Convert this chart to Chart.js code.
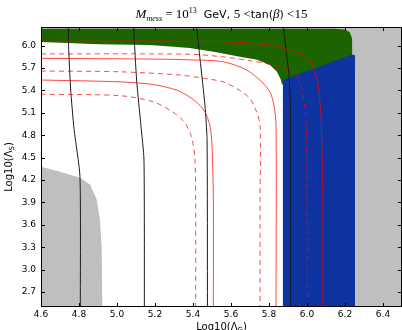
<!DOCTYPE html>
<html>
<head>
<meta charset="utf-8">
<script src="https://cdn.jsdelivr.net/npm/chart.js@4.4.0/dist/chart.umd.min.js"></script>
<style>
  body { margin: 0; background: #fff; }
  canvas { display: block; }
</style>
</head>
<body>
<canvas id="scanChart" width="402" height="330"></canvas>
<script>
// axis ticks
const xTicks = [4.6, 4.8, 5.0, 5.2, 5.4, 5.6, 5.8, 6.0, 6.2, 6.4];
const yTicks = [2.7, 3.0, 3.3, 3.6, 3.9, 4.2, 4.5, 4.8, 5.1, 5.4, 5.7, 6.0];

// region outlines [log10 Lambda_G, log10 Lambda_S]
// green runs a little under the blue so no seam shows
const greenEdge = [[4.6, 6.05], [4.91, 6.02], [5.174, 6.01], [5.384, 5.97], [5.516, 5.915], [5.647, 5.85],
  [5.737, 5.81], [5.805, 5.74], [5.842, 5.65], [5.863, 5.54], [5.868, 5.48], [6.5, 5.8]];
const blueEdge = [[5.872, 2.5], [5.872, 5.54], [6.245, 5.89], [6.253, 5.87], [6.253, 2.5]];
const grayRightEdge = [[4.6, 6.228], [6.14, 6.228], [6.2, 6.215], [6.225, 6.18], [6.237, 6.1], [6.238, 5.88],
  [6.253, 5.87], [6.253, 2.5], [6.5, 2.5]];
const grayLeftEdge = [[4.6, 4.38], [4.7, 4.31], [4.805, 4.23], [4.858, 4.14], [4.893, 3.94], [4.91, 3.67],
  [4.919, 3.31], [4.924, 2.5]];

// black contours
const black1 = [[4.744, 6.25], [4.745, 6.0], [4.756, 5.42], [4.774, 4.88], [4.805, 4.25], [4.807, 2.5]];
const black2 = [[5.087, 6.25], [5.104, 5.515], [5.126, 4.93], [5.142, 4.47], [5.144, 2.5]];
const black3 = [[5.419, 6.25], [5.437, 5.82], [5.463, 5.2], [5.474, 4.74], [5.476, 2.5]];
const black4 = [[5.876, 6.25], [5.889, 5.955], [5.905, 5.61], [5.913, 5.15], [5.914, 2.5]];

// red contours (dashed / solid pairs)
const redA = [[4.6, 5.35], [5.016, 5.33], [5.189, 5.25], [5.279, 5.135], [5.347, 5.0], [5.384, 4.84],
  [5.402, 4.66], [5.41, 4.49], [5.414, 3.94], [5.414, 2.5]];
const redB = [[4.6, 5.54], [5.016, 5.515], [5.191, 5.48], [5.314, 5.404], [5.384, 5.31], [5.437, 5.2],
  [5.463, 5.11], [5.489, 4.93], [5.5, 4.66], [5.507, 3.94], [5.507, 2.5]];
const redC = [[4.6, 5.66], [5.016, 5.65], [5.332, 5.606], [5.489, 5.55], [5.559, 5.515], [5.647, 5.4],
  [5.7, 5.29], [5.735, 5.11], [5.753, 4.93], [5.753, 3.94], [5.753, 2.5]];
const redD = [[4.6, 5.83], [5.2, 5.82], [5.384, 5.81], [5.558, 5.785], [5.683, 5.673], [5.762, 5.515],
  [5.805, 5.38], [5.826, 5.2], [5.837, 4.93], [5.837, 2.5]];
const redE = [[4.6, 5.89], [5.384, 5.885], [5.558, 5.85], [5.7, 5.8], [5.805, 5.75], [5.911, 5.673],
  [5.946, 5.606], [5.972, 5.43], [5.989, 5.16], [5.997, 4.93], [6.002, 2.5]];
const redF = [[4.6, 6.06], [5.542, 6.054], [5.805, 6.01], [5.893, 5.955], [5.98, 5.875], [6.016, 5.785],
  [6.042, 5.65], [6.059, 5.47], [6.068, 5.25], [6.076, 4.93], [6.083, 3.94], [6.083, 2.5]];

const toXY = pts => pts.map(p => ({ x: p[0], y: p[1] }));

function areaSet(pts, color, fillTo, order) {
  return {
    data: toXY(pts), showLine: true, pointRadius: 0, borderWidth: 0,
    borderColor: color, backgroundColor: color, fill: fillTo, tension: 0, order: order
  };
}

function lineSet(pts, color, dash, tension) {
  return {
    data: toXY(pts), showLine: true, pointRadius: 0, borderWidth: 1,
    borderColor: color, borderDash: dash, fill: false, tension: tension, order: 1
  };
}

const RED = 'rgba(255, 0, 0, 0.72)';
const BLACK = '#1a1a1a';

// mixed-font title + axis titles with subscripts
function drawRuns(ctx, runs, cx, cy) {
  let total = 0;
  runs.forEach(r => { ctx.font = r.font; r.w = ctx.measureText(r.t).width; total += r.w; });
  let x = cx - total / 2;
  runs.forEach(r => {
    ctx.font = r.font;
    ctx.fillText(r.t, x, cy + (r.dy || 0));
    x += r.w;
  });
}

const textPlugin = {
  id: 'texts',
  afterDraw(chart) {
    const ctx = chart.ctx;
    const a = chart.chartArea;
    ctx.save();
    ctx.fillStyle = '#000';
    ctx.textBaseline = 'alphabetic';
    ctx.textAlign = 'left';
    const serif = '"Liberation Serif", serif';
    const sans = '"DejaVu Sans", sans-serif';
    drawRuns(ctx, [
      { t: 'M', font: 'italic 13px ' + serif },
      { t: 'mess', font: 'italic 8px ' + serif, dy: 3 },
      { t: ' = 10', font: '13px ' + serif },
      { t: '13', font: '8px ' + serif, dy: -5 },
      { t: '  GeV, ', font: '11px ' + sans },
      { t: '5 <', font: '13px ' + serif },
      { t: 'tan(', font: '11px ' + sans },
      { t: 'β', font: 'italic 13px ' + serif },
      { t: ')', font: '11px ' + sans },
      { t: ' <15', font: '13px ' + serif }
    ], (a.left + a.right) / 2, 18);

    drawRuns(ctx, [
      { t: 'Log10(Λ', font: '10px ' + sans },
      { t: 'G', font: '7px ' + sans, dy: 2 },
      { t: ')', font: '10px ' + sans }
    ], (a.left + a.right) / 2, 330);

    ctx.translate(12, (a.top + a.bottom) / 2);
    ctx.rotate(-Math.PI / 2);
    drawRuns(ctx, [
      { t: 'Log10(Λ', font: '10px ' + sans },
      { t: 'S', font: '7px ' + sans, dy: 2 },
      { t: ')', font: '10px ' + sans }
    ], 0, 0);
    ctx.restore();
  }
};

// frame and inward ticks on all four sides
const framePlugin = {
  id: 'frame',
  afterDatasetsDraw(chart) {
    const ctx = chart.ctx;
    const a = chart.chartArea;
    const sx = chart.scales.x, sy = chart.scales.y;
    ctx.save();
    ctx.strokeStyle = '#000';
    ctx.lineWidth = 1;
    ctx.beginPath();
    xTicks.forEach(v => {
      const px = Math.round(sx.getPixelForValue(v)) + 0.5;
      ctx.moveTo(px, a.bottom); ctx.lineTo(px, a.bottom - 4);
      ctx.moveTo(px, a.top); ctx.lineTo(px, a.top + 4);
    });
    yTicks.forEach(v => {
      const py = Math.round(sy.getPixelForValue(v)) + 0.5;
      ctx.moveTo(a.left, py); ctx.lineTo(a.left + 4, py);
      ctx.moveTo(a.right, py); ctx.lineTo(a.right - 4, py);
    });
    ctx.stroke();
    ctx.strokeRect(a.left + 0.5, a.top + 0.5, a.right - a.left - 1, a.bottom - a.top - 1);
    ctx.restore();
  }
};

const tickFont = { family: '"DejaVu Sans", sans-serif', size: 9 };

new Chart(document.getElementById('scanChart').getContext('2d'), {
  type: 'scatter',
  data: {
    datasets: [
      areaSet(greenEdge, '#1b6400', 'end', 10),
      areaSet(blueEdge, '#0c33a0', 'start', 9),
      areaSet(grayRightEdge, '#bfbfbf', 'end', 8),
      areaSet(grayLeftEdge, '#bfbfbf', 'start', 7),
      lineSet(redA, RED, [5, 4], 0.3),
      lineSet(redB, RED, [], 0.3),
      lineSet(redC, RED, [5, 4], 0.3),
      lineSet(redD, RED, [], 0.3),
      lineSet(redE, RED, [5, 4], 0.3),
      lineSet(redF, RED, [], 0.3),
      lineSet(black1, BLACK, [], 0.2),
      lineSet(black2, BLACK, [], 0.2),
      lineSet(black3, BLACK, [], 0.2),
      lineSet(black4, BLACK, [], 0.2)
    ]
  },
  options: {
    responsive: false,
    animation: false,
    devicePixelRatio: 1,
    layout: { padding: { top: 27, right: 0, left: 0, bottom: 0 } },
    plugins: {
      legend: { display: false },
      tooltip: { enabled: false },
      title: { display: false }
    },
    scales: {
      x: {
        type: 'linear',
        min: 4.6,
        max: 6.5,
        afterBuildTicks: scale => { scale.ticks = xTicks.map(v => ({ value: v })); },
        afterFit: scale => { scale.height = 23; },
        ticks: {
          font: tickFont, color: '#000', padding: 2, maxRotation: 0, autoSkip: false,
          callback: v => v.toFixed(1)
        },
        grid: { display: false, drawTicks: false },
        border: { display: false }
      },
      y: {
        type: 'linear',
        min: 2.5,
        max: 6.25,
        afterBuildTicks: scale => { scale.ticks = yTicks.map(v => ({ value: v })); },
        afterFit: scale => { scale.width = 41; },
        ticks: {
          font: tickFont, color: '#000', padding: 5, autoSkip: false,
          callback: v => v.toFixed(1)
        },
        grid: { display: false, drawTicks: false },
        border: { display: false }
      }
    }
  },
  plugins: [framePlugin, textPlugin]
});
</script>
</body>
</html>
